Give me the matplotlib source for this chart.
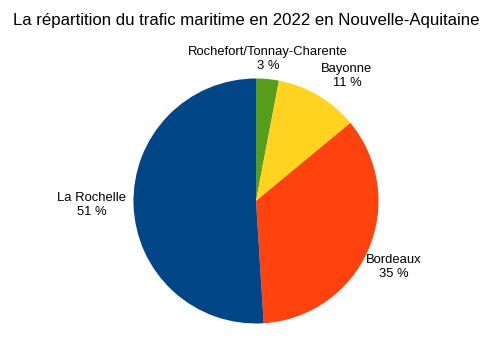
import matplotlib
matplotlib.use("Agg")
import matplotlib.pyplot as plt

plt.rcParams['font.family'] = ['Liberation Sans', 'DejaVu Sans']

# data
ports = ["Rochefort/Tonnay-Charente", "Bayonne", "Bordeaux", "La Rochelle"]
shares = [3, 11, 35, 51]
colors = ["#579d1c", "#ffd320", "#ff420e", "#004586"]
# label centres in pixels (x, y from top)
label_pos = [(268, 59), (347, 76), (394, 267), (92, 205)]

W, H = 489, 343
fig = plt.figure(figsize=(W / 100, H / 100), dpi=100)
cx, cy, r = 256, 201, 122.5
ax = fig.add_axes([(cx - r) / W, (H - cy - r) / H, 2 * r / W, 2 * r / H])
ax.pie(shares, colors=colors, startangle=90, counterclock=False, radius=1,
       wedgeprops=dict(linewidth=0))
ax.set_xlim(-1, 1)
ax.set_ylim(-1, 1)
ax.set_aspect('equal')
ax.axis('off')

for name, val, (px, py) in zip(ports, shares, label_pos):
    fig.text(px / W, 1 - py / H, f"{name}\n{val} %", ha='center', va='center',
             fontsize=9.35, linespacing=1.15, color='black')

fig.text(246 / W, 1 - 20 / H,
         "La répartition du trafic maritime en 2022 en Nouvelle-Aquitaine",
         ha='center', va='center', fontsize=12.1)

fig.savefig("out.png", dpi=100)
